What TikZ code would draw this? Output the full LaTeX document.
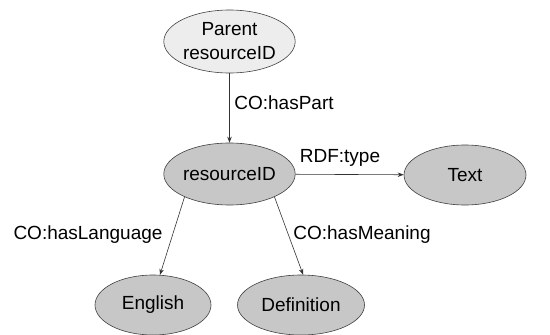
\documentclass[tikz,border=0pt]{standalone}
\usepackage{fontspec}
\setmainfont{Liberation Sans}
\usetikzlibrary{shapes.geometric,arrows.meta}
\begin{document}
\begin{tikzpicture}[x=1pt,y=-1pt,
  every node/.style={font=\fontsize{19}{20}\selectfont},
  nd/.style={ellipse,draw=black!75,line width=0.6pt,fill=black!22,inner sep=0pt,text=black},
  conn/.style={draw=black!80,line width=0.6pt,-{Stealth[length=6pt,width=4.5pt]}},
  lbl/.style={inner sep=0pt,text=black}]
\useasboundingbox (0,0) rectangle (550,335);
\node[nd,fill=black!7,minimum width=127pt,minimum height=63pt,align=center,
  font=\fontsize{19}{24}\selectfont] (parent) at (229.5,41.5) {Parent\\resourceID};
\node[nd,minimum width=127pt,minimum height=62pt] (res) at (229.5,174) {resourceID};
\node[nd,minimum width=122pt,minimum height=60pt] (text) at (465,175) {Text};
\node[nd,minimum width=116pt,minimum height=60pt] (eng) at (153,305) {English};
\node[nd,minimum width=127pt,minimum height=60pt] (def) at (301,305) {Definition};
\draw[conn] (parent) -- (res);
\draw[conn] (res) -- (text);
\draw[conn] (res.207) -- (eng.77);
\draw[conn] (res.-27) -- (def.86);
\node[lbl] (l1) at (284,103) {CO:hasPart};
\node[lbl] (l2) at (340,158) {RDF:type};
\node[lbl] (l3) at (88,235) {CO:hasLanguage};
\node[lbl] (l4) at (362,235) {CO:hasMeaning};
\end{tikzpicture}
\end{document}
